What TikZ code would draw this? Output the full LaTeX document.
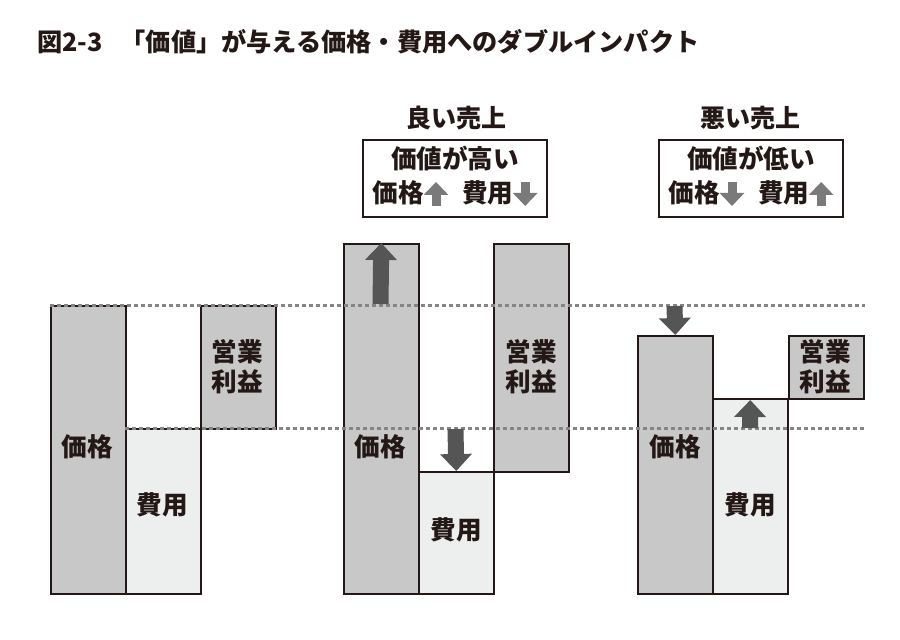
\documentclass[tikz,border=0pt]{standalone}
\usepackage{fontspec}
\setmainfont{Noto Sans CJK JP}
\usetikzlibrary{arrows.meta, positioning}
\definecolor{bargray}{HTML}{C8C8C8}
\definecolor{barlight}{HTML}{EDEFEE}
\definecolor{edgeblack}{HTML}{231815}
\definecolor{arrowdark}{HTML}{555555}
\definecolor{arrowlight}{HTML}{7A7A7A}
\definecolor{linegray}{HTML}{858585}
\tikzset{
  barbox/.style={rectangle, draw=edgeblack, line width=0.8pt, anchor=north west,
                 minimum width=37.5pt, inner sep=0pt},
  pricebar/.style={barbox, fill=bargray},
  costbar/.style={barbox, fill=barlight},
  profitbar/.style={barbox, fill=bargray},
  barlabel/.style={font=\fontsize{12.8pt}{15pt}\selectfont\bfseries, align=center,
                   text=edgeblack, inner sep=0pt},
  headlabel/.style={font=\fontsize{12.5pt}{15pt}\selectfont\bfseries, text=edgeblack},
  notebox/.style={rectangle, draw=edgeblack, line width=0.8pt, minimum width=92pt,
                  minimum height=38.5pt, inner sep=0pt, align=center, text=edgeblack,
                  font=\fontsize{12.8pt}{17pt}\selectfont\bfseries},
  levelline/.style={linegray, line width=1.5pt, dash pattern=on 2pt off 1.5pt},
  bigarrow/.style={arrowdark, line width=8pt, -{Triangle[width=15.5pt,length=8.5pt]}},
}
\newcommand{\smallup}{\tikz[baseline=1.5pt, x=1pt, y=1pt]
  \draw[arrowlight, line width=4.5pt, -{Triangle[width=12pt,length=6.5pt]}] (0,0) -- (0,12);}
\newcommand{\smalldown}{\tikz[baseline=1.5pt, x=1pt, y=1pt]
  \draw[arrowlight, line width=4.5pt, -{Triangle[width=12pt,length=6.5pt]}] (0,12) -- (0,0);}

\begin{document}
\begin{tikzpicture}[x=0.5pt, y=-0.5pt]
  \useasboundingbox (0,0) rectangle (900,639);

  % Titel
  \node[headlabel, anchor=west, font=\fontsize{12.6pt}{15pt}\selectfont\bfseries] (title) at (30,42)
    {図2-3\hspace{9pt}「価値」が与える価格・費用へのダブルインパクト};

  % linke Gruppe
  \node[pricebar, minimum height=144pt] (lprice) at (50,305) {};
  \node[costbar, minimum height=82.5pt] (lcost) at (125,428) {};
  \node[profitbar, minimum height=61.5pt] (lprofit) at (200,305) {};

  % mittlere Gruppe
  \node[pricebar, minimum height=175pt] (mprice) at (343,243) {};
  \node[costbar, minimum height=61pt] (mcost) at (418,471) {};
  \node[profitbar, minimum height=114pt] (mprofit) at (493,243) {};
  \node[headlabel] (mhead) at (456,118) {良い売上};
  \node[notebox] (mnote) at (455,178.5)
    {価値が高い\\価格\smallup\hspace{7pt}費用\smalldown};

  % rechte Gruppe
  \node[pricebar, minimum height=129pt] (rprice) at (637,335) {};
  \node[costbar, minimum height=97.5pt] (rcost) at (712,398) {};
  \node[profitbar, minimum height=31.5pt] (rprofit) at (788,335) {};
  \node[headlabel] (rhead) at (750,118) {悪い売上};
  \node[notebox] (rnote) at (751,178.5)
    {価値が低い\\価格\smalldown\hspace{7pt}費用\smallup};

  % Beschriftungen
  \node[barlabel] (lpricetxt) at (87,447) {価格};
  \node[barlabel] (lcosttxt) at (162,505) {費用};
  \node[barlabel] (lprofittxt) at (237,367) {営業\\利益};
  \node[barlabel] (mpricetxt) at (380,447) {価格};
  \node[barlabel] (mcosttxt) at (456,530) {費用};
  \node[barlabel] (mprofittxt) at (531,367) {営業\\利益};
  \node[barlabel] (rpricetxt) at (675,447) {価格};
  \node[barlabel] (rcosttxt) at (750,505) {費用};
  \node[barlabel] (rprofittxt) at (825,367) {営業\\利益};

  % Niveaulinien
  \coordinate (topend) at (865,305);
  \coordinate (midend) at (865,428);
  \draw[levelline] (lprice.north west) -- (topend);
  \draw[levelline] (lcost.north west) -- (midend);

  % Pfeile
  \coordinate (mupstart) at (380.5,304);
  \coordinate (mdownstart) at (455.5,429);
  \coordinate (rdownstart) at (674.5,306);
  \coordinate (rupstart) at (750,428);
  \draw[bigarrow] (mupstart) -- (mprice.north);
  \draw[bigarrow] (mdownstart) -- (mcost.north);
  \draw[bigarrow] (rdownstart) -- (rprice.north);
  \draw[bigarrow] (rupstart) -- ([yshift=-1pt]rcost.north);
\end{tikzpicture}
\end{document}
